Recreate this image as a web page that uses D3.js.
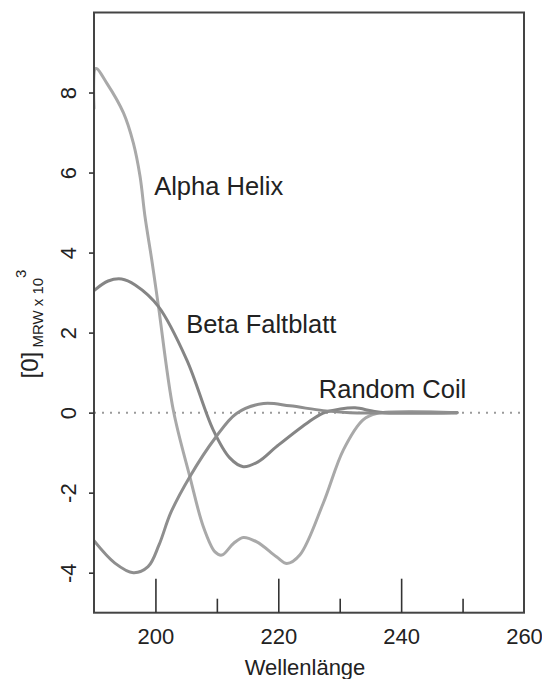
<!DOCTYPE html>
<html>
<head>
<meta charset="utf-8">
<script src="https://cdn.jsdelivr.net/npm/d3@7"></script>
<style>
  html, body { margin: 0; padding: 0; background: #fff; }
  svg { display: block; font-family: "Liberation Sans", Arial, Helvetica, sans-serif; }
</style>
</head>
<body>
<svg id="chart" width="542" height="679"></svg>
<script>
// CD spectra of the three secondary-structure types (mean residue ellipticity, x 10^3)
const alphaWl   = [190, 190.3, 192.1, 194.8, 196.4, 197.5, 198.3, 199.4, 200.5, 202.9, 205.6, 207.8, 209.7, 210.8, 212.7, 214.3, 216.5, 219.7, 221.4, 223.5, 227.3, 230.6, 233.8, 236.0, 249.1];
const alphaVal  = [7.6, 8.6, 8.23, 7.49, 6.74, 5.9, 4.9, 3.82, 2.65, 0.07, -1.6, -2.85, -3.48, -3.56, -3.27, -3.12, -3.23, -3.6, -3.77, -3.56, -2.27, -0.93, -0.18, -0.02, 0];

const betaWl    = [190, 192.3, 194.5, 196.7, 200.5, 205.1, 209.4, 212.1, 214.3, 216.7, 219.7, 224.6, 227.3, 230.1, 232.5, 235.3, 237.4, 249.1];
const betaVal   = [3.05, 3.29, 3.34, 3.19, 2.65, 1.32, -0.43, -1.13, -1.35, -1.23, -0.85, -0.27, -0.01, 0.09, 0.12, 0.04, 0, 0];

const coilWl    = [190, 193.4, 196.4, 198.8, 200.6, 202.5, 205.6, 209.7, 213.2, 217.6, 221.9, 227.3, 231.7, 249.1];
const coilVal   = [-3.2, -3.76, -4.0, -3.85, -3.3, -2.5, -1.6, -0.64, -0.02, 0.23, 0.17, 0.05, 0, 0];

const seriesNames = ["Alpha Helix", "Beta Faltblatt", "Random Coil"];
const xMajorTicks = [200, 220, 240, 260];
const xMinorTicks = [210, 230, 250];
const yTicks      = [-4, -2, 0, 2, 4, 6, 8];

const svg = d3.select("#chart");
const L = 94, R = 524, T = 12.5, B = 612.7;

const x = d3.scaleLinear().domain([190, 260]).range([L, R]);
const y = d3.scaleLinear().domain([-5, 10]).range([B, T]);

svg.append("defs").append("clipPath").attr("id", "plotClip")
  .append("rect").attr("x", L).attr("y", T).attr("width", R - L).attr("height", B - T);

// zero reference line
svg.append("line")
  .attr("x1", x(190)).attr("x2", x(260))
  .attr("y1", y(0)).attr("y2", y(0))
  .attr("stroke", "#9a9a9a").attr("stroke-width", 2)
  .attr("stroke-dasharray", "2,6");

const line = d3.line()
  .x(d => x(d[0])).y(d => y(d[1]))
  .curve(d3.curveCatmullRom.alpha(0.5));

const series = [
  { wl: alphaWl, val: alphaVal, color: "#a9a9a9" },
  { wl: betaWl,  val: betaVal,  color: "#858585" },
  { wl: coilWl,  val: coilVal,  color: "#8e8e8e" }
];

const g = svg.append("g").attr("clip-path", "url(#plotClip)");
series.forEach(s => {
  g.append("path")
    .datum(d3.zip(s.wl, s.val))
    .attr("d", line)
    .attr("fill", "none")
    .attr("stroke", s.color)
    .attr("stroke-width", 3)
    .attr("stroke-linejoin", "round")
    .attr("stroke-linecap", "round");
});

// series labels
const labelPos = [[199.8, 5.43], [205.0, 1.98], [226.6, 0.36]];
seriesNames.forEach((name, i) => {
  svg.append("text")
    .attr("x", x(labelPos[i][0])).attr("y", y(labelPos[i][1]))
    .attr("font-size", 25.5).attr("fill", "#222")
    .text(name);
});

// frame
svg.append("rect")
  .attr("x", L).attr("y", T).attr("width", R - L).attr("height", B - T)
  .attr("fill", "none").attr("stroke", "#444").attr("stroke-width", 2);

const plain = d => String(d);

// x axis: ticks pointing into the plot
const xAxis = svg.append("g").attr("transform", `translate(0,${B})`);
xAxis.call(d3.axisBottom(x).tickValues(xMajorTicks).tickSize(-34).tickSizeOuter(0).tickFormat(plain))
  .call(a => a.select(".domain").remove())
  .call(a => a.selectAll(".tick line").attr("stroke", "#333").attr("stroke-width", 1.6))
  .call(a => a.selectAll(".tick text").attr("y", 31).attr("dy", null).attr("font-size", 22)
        .attr("fill", "#222").attr("font-family", "Liberation Sans, Arial, sans-serif"));
xAxis.selectAll(".tick").filter(d => d === 260).select("line").remove();

const xMinor = svg.append("g").attr("transform", `translate(0,${B})`);
xMinor.call(d3.axisBottom(x).tickValues(xMinorTicks).tickSize(-14).tickFormat(""))
  .call(a => a.select(".domain").remove())
  .call(a => a.selectAll(".tick line").attr("stroke", "#333").attr("stroke-width", 1.6));

// y axis: short outward ticks, rotated labels
const yAxis = svg.append("g").attr("transform", `translate(${L},0)`);
yAxis.call(d3.axisLeft(y).tickValues(yTicks).tickSize(5).tickFormat(plain))
  .call(a => a.select(".domain").remove())
  .call(a => a.selectAll(".tick line").attr("stroke", "#333").attr("stroke-width", 1.6))
  .call(a => a.selectAll(".tick text")
        .attr("x", null).attr("dy", null)
        .attr("transform", "translate(-18,0) rotate(-90)")
        .attr("text-anchor", "middle")
        .attr("font-size", 22).attr("fill", "#222")
        .attr("font-family", "Liberation Sans, Arial, sans-serif"));

// axis titles
svg.append("text")
  .attr("x", (L + R) / 2 - 4).attr("y", 675)
  .attr("text-anchor", "middle").attr("font-size", 22).attr("fill", "#222")
  .text("Wellenlänge");

const yTitle = svg.append("text")
  .attr("transform", "translate(38,324) rotate(-90)")
  .attr("text-anchor", "middle").attr("fill", "#222");
yTitle.append("tspan").attr("font-size", 24).text("[0]");
yTitle.append("tspan").attr("font-size", 15).attr("dy", 5).text(" MRW x 10");
yTitle.append("tspan").attr("font-size", 15).attr("dy", -17).text("3");
</script>
</body>
</html>
